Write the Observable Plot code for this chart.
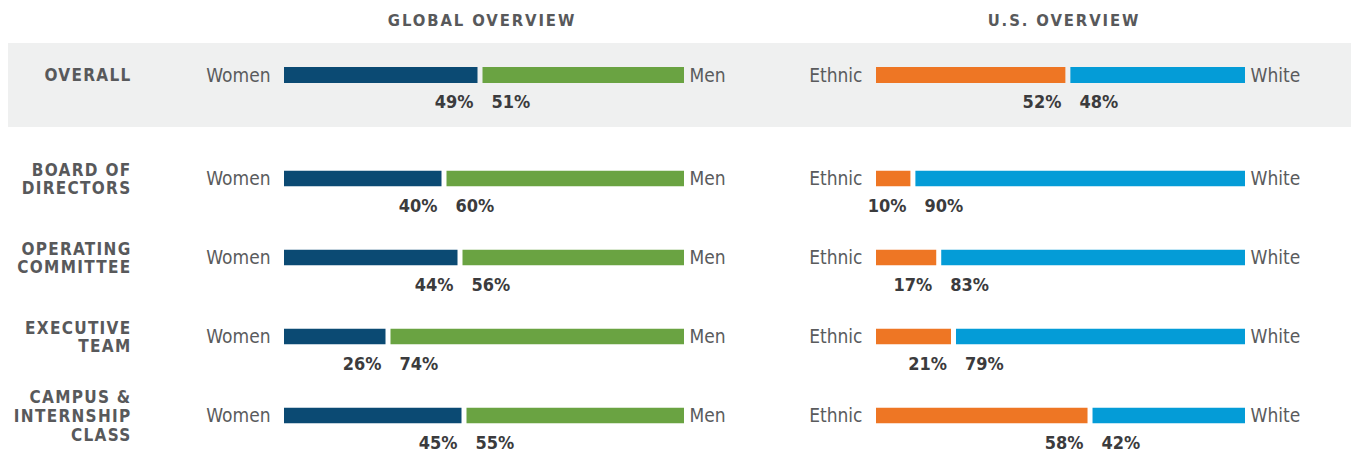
<!DOCTYPE html>
<html><head><meta charset="utf-8">
<script src="https://cdn.jsdelivr.net/npm/d3@7"></script>
<script src="https://cdn.jsdelivr.net/npm/@observablehq/plot@0.6"></script>
<style>
body{margin:0;background:#fff;}
#root{position:relative;width:1351px;height:453px;overflow:hidden;}
.band{position:absolute;left:8px;top:43px;width:1343px;height:84px;background:#eff0f0;}
.title{position:absolute;top:11px;font-family:"DejaVu Sans Condensed","DejaVu Sans",sans-serif;font-weight:bold;font-size:16.5px;letter-spacing:1.9px;color:#58595b;transform:translateX(-50%);white-space:nowrap;}
.p{position:absolute;}
</style></head><body><div id="root"><div class="band"></div></div>
<script>
// ---- data ----
const panelTitles = ["GLOBAL OVERVIEW", "U.S. OVERVIEW"];
const rowLabels = ["OVERALL", "BOARD OF\nDIRECTORS", "OPERATING\nCOMMITTEE", "EXECUTIVE\nTEAM", "CAMPUS &\nINTERNSHIP\nCLASS"];
const globalLabels = ["Women", "Men"];
const usLabels = ["Ethnic", "White"];
const women = [49, 40, 44, 26, 45];
const men = [51, 60, 56, 74, 55];
const ethnic = [52, 10, 17, 21, 58];
const white = [48, 90, 83, 79, 42];

const root = document.getElementById("root");
const LIGHT = '"Liberation Sans Narrow","DejaVu Sans Condensed",sans-serif';
const COND = '"DejaVu Sans Condensed","DejaVu Sans",sans-serif';

function panel({idx, a, b, labels, colors, left, width, mLeft, mRight, top, height, yRange, rowLab}) {
  const data = idx.map(i => ({row: rowLabels[i], a: a[i], b: b[i]}));
  const domain = data.map(d => d.row);
  const step = (yRange[1] - yRange[0]) / domain.length;
  const inset = (step - 16) / 2;
  const marks = [
    Plot.barX(data, {x1: 0, x2: "a", y: "row", fill: colors[0], insetRight: 2.5, insetTop: inset, insetBottom: inset}),
    Plot.barX(data, {x1: "a", x2: 100, y: "row", fill: colors[1], insetLeft: 2.5, insetTop: inset, insetBottom: inset}),
    Plot.text(data, {y: "row", text: () => labels[0], frameAnchor: "left", textAnchor: "end", dx: -14, fill: "#5a5b5d", fontFamily: LIGHT, fontSize: 19}),
    Plot.text(data, {y: "row", text: () => labels[1], frameAnchor: "right", textAnchor: "start", dx: 5, fill: "#5a5b5d", fontFamily: LIGHT, fontSize: 19}),
    Plot.text(data, {x: "a", y: "row", text: d => d.a + "%", textAnchor: "end", dx: -7, dy: 27, fill: "#3b3b3d", fontFamily: COND, fontWeight: "bold", fontSize: 18}),
    Plot.text(data, {x: "a", y: "row", text: d => d.b + "%", textAnchor: "start", dx: 11, dy: 27, fill: "#3b3b3d", fontFamily: COND, fontWeight: "bold", fontSize: 18})
  ];
  if (rowLab) marks.push(Plot.text(data, {y: "row", text: "row", frameAnchor: "left", textAnchor: "end", lineAnchor: "middle", lineHeight: 1.1, dx: 131 - mLeft, fill: "#58595b", fontFamily: COND, fontWeight: "bold", fontSize: 17}));
  const svg = Plot.plot({
    width, height,
    marginLeft: mLeft, marginRight: mRight, marginTop: 0, marginBottom: 0,
    x: {domain: [0, 100], axis: null},
    y: {type: "band", domain, range: yRange, padding: 0, axis: null},
    style: {background: "transparent", overflow: "visible"},
    marks
  });
  d3.select(svg).selectAll("g[font-size='17']").attr("letter-spacing", "1.3px");
  svg.classList.add("p");
  svg.style.left = left + "px";
  svg.style.top = top + "px";
  svg.style.position = "absolute";
  root.appendChild(svg);
}

const sections = [
  {idx: [0], top: 43, height: 84, yRange: [0, 64]},
  {idx: [1, 2, 3, 4], top: 138, height: 315, yRange: [0, 318]}
];
for (const s of sections) {
  panel({...s, a: women, b: men, labels: globalLabels, colors: ["#0b4a73", "#6aa342"], left: 0, width: 760, mLeft: 284, mRight: 76, rowLab: true});
  panel({...s, a: ethnic, b: white, labels: usLabels, colors: ["#ee7624", "#049cd7"], left: 760, width: 591, mLeft: 116, mRight: 106, rowLab: false});
}
const centers = [482, 1064];
panelTitles.forEach((t, i) => {
  const d = document.createElement("div");
  d.className = "title";
  d.textContent = t;
  d.style.left = centers[i] + "px";
  root.appendChild(d);
});
</script></body></html>
